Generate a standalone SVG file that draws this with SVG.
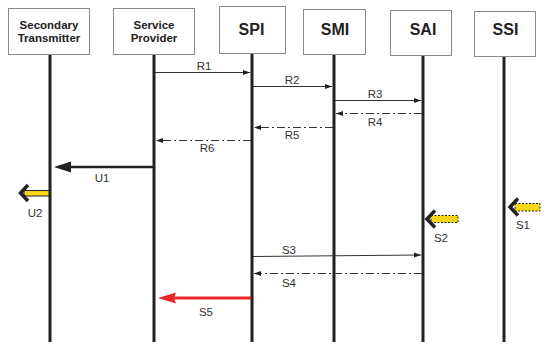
<svg xmlns="http://www.w3.org/2000/svg" width="548" height="350" viewBox="0 0 548 350">
<style>
.box{fill:#fff;stroke:#8a8a8a;stroke-width:1}
.t2{font-family:"Liberation Sans",Arial,sans-serif;font-weight:bold;font-size:11.5px;fill:#222;text-anchor:middle}
.t1{font-family:"Liberation Sans",Arial,sans-serif;font-weight:bold;font-size:16px;fill:#222;text-anchor:middle}
.life{stroke:#222;stroke-width:3}
.msg{stroke:#333;stroke-width:1;fill:none}
.dd{stroke-dasharray:8,3,2,3}
.lbl{font-family:"Liberation Sans",Arial,sans-serif;font-size:11.5px;fill:#333;text-anchor:middle}
.ybar{fill:#f7d61a;stroke:#222;stroke-width:1}
.ydash{stroke-dasharray:2,1.5}
.chev{fill:none;stroke:#222;stroke-width:3.5;stroke-linejoin:miter}
</style>
<defs>
<marker id="ah" markerUnits="userSpaceOnUse" markerWidth="8" markerHeight="6" refX="7" refY="3" orient="auto">
<path d="M0,0.5 L7,3 L0,5.5 Z" fill="#222"/>
</marker>
</defs>
<g id="node-st"><rect class="box" x="8.5" y="8.5" width="81" height="46"/><text class="t2" x="49" y="28.5">Secondary</text><text class="t2" x="49" y="42">Transmitter</text><line class="life" x1="50" y1="55" x2="50" y2="342"/></g>
<g id="node-sp"><rect class="box" x="113.5" y="8.5" width="81" height="46"/><text class="t2" x="154" y="28.5">Service</text><text class="t2" x="154" y="42">Provider</text><line class="life" x1="154" y1="55" x2="154" y2="342"/></g>
<g id="node-spi"><rect class="box" x="219.5" y="6.5" width="66" height="47"/><text class="t1" x="251.5" y="35">SPI</text><line class="life" x1="252" y1="54" x2="252" y2="342"/></g>
<g id="node-smi"><rect class="box" x="303.5" y="9.5" width="62" height="45"/><text class="t1" x="335" y="34.5">SMI</text><line class="life" x1="334" y1="55" x2="334" y2="342"/></g>
<g id="node-sai"><rect class="box" x="390.5" y="10.5" width="61" height="45"/><text class="t1" x="423" y="34.5">SAI</text><line class="life" x1="423" y1="56" x2="423" y2="342"/></g>
<g id="node-ssi"><rect class="box" x="474.5" y="11.5" width="61" height="45"/><text class="t1" x="505.5" y="35">SSI</text><line class="life" x1="504" y1="57" x2="504" y2="342"/></g>
<g id="connectors">
<line class="msg" x1="155" y1="72.5" x2="250" y2="72.5" marker-end="url(#ah)"/>
<text class="lbl" x="204" y="70">R1</text>
<line class="msg" x1="253" y1="86.5" x2="332" y2="86.5" marker-end="url(#ah)"/>
<text class="lbl" x="292" y="83.5">R2</text>
<line class="msg" x1="335" y1="100.5" x2="421" y2="100.5" marker-end="url(#ah)"/>
<text class="lbl" x="375" y="97.5">R3</text>
<line class="msg dd" x1="422" y1="113.5" x2="336" y2="113.5" marker-end="url(#ah)"/>
<text class="lbl" x="375" y="125.5">R4</text>
<line class="msg dd" x1="333" y1="127.5" x2="254" y2="127.5" marker-end="url(#ah)"/>
<text class="lbl" x="292" y="138.5">R5</text>
<line class="msg dd" x1="251" y1="140.5" x2="156" y2="140.5" marker-end="url(#ah)"/>
<text class="lbl" x="207" y="151.5">R6</text>
<line x1="153" y1="167" x2="66" y2="167" stroke="#222" stroke-width="2.5"/>
<polygon points="54,167 71,161.5 71,172.5" fill="#222"/>
<text class="lbl" x="102" y="182">U1</text>
<rect class="ybar" x="24" y="190.5" width="25" height="5.5"/>
<polyline class="chev" points="28,185 20.5,193 28,201"/>
<text class="lbl" x="35" y="217">U2</text>
<rect class="ybar ydash" x="515" y="203.5" width="25" height="7.5"/>
<polyline class="chev" points="518,198.5 510,207 518,215.5"/>
<text class="lbl" x="523" y="229">S1</text>
<rect class="ybar ydash" x="431" y="215.5" width="27" height="7"/>
<polyline class="chev" points="435,210.5 427,219 435,227.5"/>
<text class="lbl" x="441" y="242">S2</text>
<line class="msg" x1="253" y1="256.5" x2="421" y2="255" marker-end="url(#ah)"/>
<text class="lbl" x="289" y="254">S3</text>
<line class="msg dd" x1="422" y1="273.5" x2="254" y2="273.5" marker-end="url(#ah)"/>
<text class="lbl" x="289" y="287">S4</text>
<line x1="251" y1="298" x2="172" y2="298" stroke="#e8262b" stroke-width="3"/>
<polygon points="158,298 176,292.5 174,298 176,303.5" fill="#e8262b"/>
<text class="lbl" x="206" y="316">S5</text>
</g>
</svg>
